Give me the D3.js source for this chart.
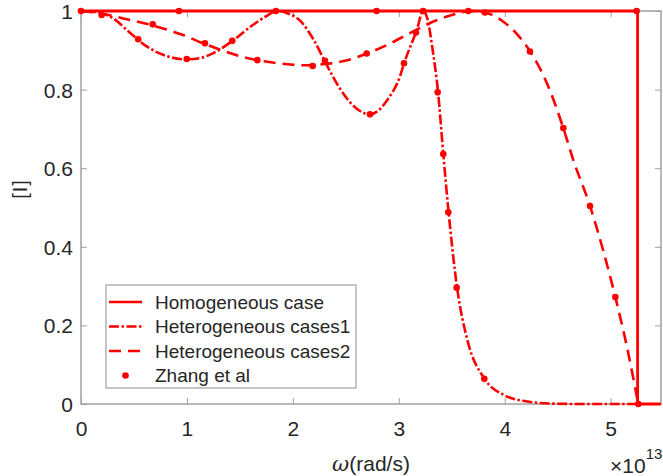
<!DOCTYPE html>
<html>
<head>
<meta charset="utf-8">
<script src="https://cdn.jsdelivr.net/npm/d3@7"></script>
<style>
  html, body { margin: 0; padding: 0; background: #fff; }
  svg { display: block; font-family: "Liberation Sans", Arial, Helvetica, sans-serif; }
</style>
</head>
<body>
<svg id="chart" width="663" height="476"></svg>
<script>
// Frequency axis in units of 1e13 rad/s
const xTicks = [0, 1, 2, 3, 4, 5];
const yTicks = [0, 0.2, 0.4, 0.6, 0.8, 1];
const xTickLabels = ["0", "1", "2", "3", "4", "5"];
const yTickLabels = ["0", "0.2", "0.4", "0.6", "0.8", "1"];
const xDomain = [0, 5.475];
const yDomain = [0, 1];

const seriesNames = ["Homogeneous case", "Heterogeneous cases1", "Heterogeneous cases2", "Zhang et al"];

// Homogeneous case
const homX = [0, 5.254, 5.254, 5.475];
const homY = [1, 1, 0, 0];

// Heterogeneous cases1
const het1X = [0, 0.15, 0.3, 0.46, 0.62, 0.78, 0.99, 1.12, 1.25, 1.43, 1.6, 1.75, 1.85, 1.94, 2.07, 2.2, 2.3, 2.45, 2.6, 2.73, 2.82, 2.89, 3.01, 3.05, 3.17, 3.23, 3.27, 3.32, 3.37, 3.42, 3.47, 3.55, 3.65, 3.81, 4.0, 4.2, 4.45, 4.7, 5.26];
const het1Y = [1, 0.997, 0.982, 0.945, 0.91, 0.888, 0.877, 0.88, 0.893, 0.924, 0.96, 0.987, 1.0, 0.995, 0.975, 0.925, 0.873, 0.8, 0.752, 0.737, 0.75, 0.773, 0.833, 0.867, 0.952, 1.0, 0.98, 0.9, 0.795, 0.636, 0.488, 0.296, 0.16, 0.064, 0.022, 0.007, 0.001, 0, 0];

// Heterogeneous cases2
const het2X = [0, 0.2, 0.4, 0.68, 0.95, 1.17, 1.35, 1.5, 1.7, 1.9, 2.1, 2.3, 2.5, 2.7, 2.9, 3.1, 3.3, 3.5, 3.68, 3.85, 4.0, 4.12, 4.24, 4.4, 4.553, 4.647, 4.805, 4.93, 5.044, 5.15, 5.26];
const het2Y = [1, 0.993, 0.981, 0.963, 0.94, 0.916, 0.898, 0.885, 0.873, 0.866, 0.862, 0.865, 0.874, 0.892, 0.915, 0.943, 0.97, 0.99, 1.0, 0.993, 0.97, 0.94, 0.897, 0.815, 0.702, 0.621, 0.504, 0.39, 0.272, 0.15, 0];

// Zhang et al
const zhX = [0, 0.195, 0.54, 0.677, 0.925, 0.998, 1.17, 1.428, 1.664, 1.84, 2.187, 2.303, 2.697, 2.728, 2.79, 3.049, 3.162, 3.23, 3.367, 3.42, 3.467, 3.546, 3.656, 3.807, 3.814, 4.238, 4.553, 4.805, 5.044, 5.245, 5.261];
const zhY = [1, 0.99, 0.928, 0.966, 1, 0.878, 0.918, 0.924, 0.875, 1, 0.86, 0.873, 0.892, 0.737, 1, 0.867, 0.945, 1, 0.793, 0.636, 0.488, 0.296, 1, 0.064, 0.996, 0.897, 0.702, 0.504, 0.272, 1, 0];

const RED = "#ff0000";
const AXIS = "#a0a0a0";
const TEXT = "#262626";

const svg = d3.select("#chart");
svg.append("rect").attr("width", 663).attr("height", 476).attr("fill", "#fff");

const plot = { left: 81, right: 661, top: 11, bottom: 404 };
const x = d3.scaleLinear().domain(xDomain).range([plot.left, plot.right]);
const y = d3.scaleLinear().domain(yDomain).range([plot.bottom, plot.top]);

// Box and inward ticks
const tickLen = 6;
const axisG = svg.append("g");
function styleAxis(g) {
  g.select(".domain").remove();
  g.selectAll(".tick line").attr("stroke", AXIS).attr("stroke-width", 1);
}
axisG.append("g").attr("transform", `translate(0,${plot.bottom})`)
  .call(d3.axisBottom(x).tickValues(xTicks).tickSize(-tickLen).tickFormat((d, i) => xTickLabels[i]))
  .call(styleAxis)
  .call(g => g.selectAll(".tick text").attr("y", 25).attr("dy", "0.32em")
    .attr("font-size", 21).attr("fill", TEXT).attr("font-family", "Liberation Sans, Arial, sans-serif"));
axisG.append("g").attr("transform", `translate(0,${plot.top})`)
  .call(d3.axisTop(x).tickValues(xTicks).tickSize(-tickLen).tickFormat(""))
  .call(styleAxis);
axisG.append("g").attr("transform", `translate(${plot.left},0)`)
  .call(d3.axisLeft(y).tickValues(yTicks).tickSize(-tickLen).tickFormat((d, i) => yTickLabels[i]))
  .call(styleAxis)
  .call(g => g.selectAll(".tick text").attr("x", -8).attr("dy", "0.36em")
    .attr("font-size", 21).attr("fill", TEXT).attr("font-family", "Liberation Sans, Arial, sans-serif"));
axisG.append("g").attr("transform", `translate(${plot.right},0)`)
  .call(d3.axisRight(y).tickValues(yTicks).tickSize(-tickLen).tickFormat(""))
  .call(styleAxis);
axisG.append("rect")
  .attr("x", plot.left).attr("y", plot.top)
  .attr("width", plot.right - plot.left).attr("height", plot.bottom - plot.top)
  .attr("fill", "none").attr("stroke", AXIS).attr("stroke-width", 1.5);

// Curves
const toPts = (xs, ys) => xs.map((v, i) => [v, ys[i]]);
const smooth = d3.line().x(d => x(d[0])).y(d => y(d[1])).curve(d3.curveMonotoneX);
const straight = d3.line().x(d => x(d[0])).y(d => y(d[1]));

const lines = svg.append("g").attr("fill", "none").attr("stroke", RED).attr("stroke-width", 2.6);
lines.append("path").attr("d", smooth(toPts(het2X, het2Y))).attr("stroke-dasharray", "12,7");
lines.append("path").attr("d", smooth(toPts(het1X, het1Y))).attr("stroke-dasharray", "10,2.5,2.5,2.5");
lines.append("path").attr("d", straight(toPts(homX, homY))).attr("stroke-width", 2.8);

svg.append("g").selectAll("circle")
  .data(toPts(zhX, zhY))
  .join("circle")
  .attr("cx", d => x(d[0])).attr("cy", d => y(d[1]))
  .attr("r", 3.3).attr("fill", RED);

// Legend
const leg = svg.append("g");
leg.append("rect").attr("x", 106).attr("y", 285).attr("width", 250).attr("height", 103)
  .attr("fill", "#fff").attr("stroke", AXIS).attr("stroke-width", 1.2);
const rowY = [302, 326.5, 351, 375.5];
const dashes = [null, "10,2.5,2.5,2.5", "12,7", null];
seriesNames.forEach((name, i) => {
  if (i < 3) {
    leg.append("line").attr("x1", 109).attr("x2", 142).attr("y1", rowY[i]).attr("y2", rowY[i])
      .attr("stroke", RED).attr("stroke-width", 2.6)
      .attr("stroke-dasharray", dashes[i]);
  } else {
    leg.append("circle").attr("cx", 125.5).attr("cy", rowY[i]).attr("r", 3.3).attr("fill", RED);
  }
  leg.append("text").attr("x", 155).attr("y", rowY[i]).attr("dy", "0.35em")
    .attr("font-size", 19).attr("fill", TEXT).text(name);
});

// Axis titles
const xl = svg.append("text").attr("x", (plot.left + plot.right) / 2).attr("y", 471)
  .attr("text-anchor", "middle").attr("font-size", 21).attr("fill", TEXT);
xl.append("tspan").attr("font-style", "italic").attr("font-family", "DejaVu Serif, serif").text("ω");
xl.append("tspan").text("(rad/s)");

svg.append("text").attr("transform", "translate(27,189) rotate(-90)")
  .attr("text-anchor", "middle").attr("font-size", 20).attr("fill", TEXT)
  .attr("letter-spacing", 1).text("[I]");

const ex = svg.append("text").attr("x", 610).attr("y", 473).attr("font-size", 21).attr("fill", TEXT);
ex.append("tspan").text("×10");
ex.append("tspan").attr("font-size", 15).attr("dy", -14).text("13");
</script>
</body>
</html>
